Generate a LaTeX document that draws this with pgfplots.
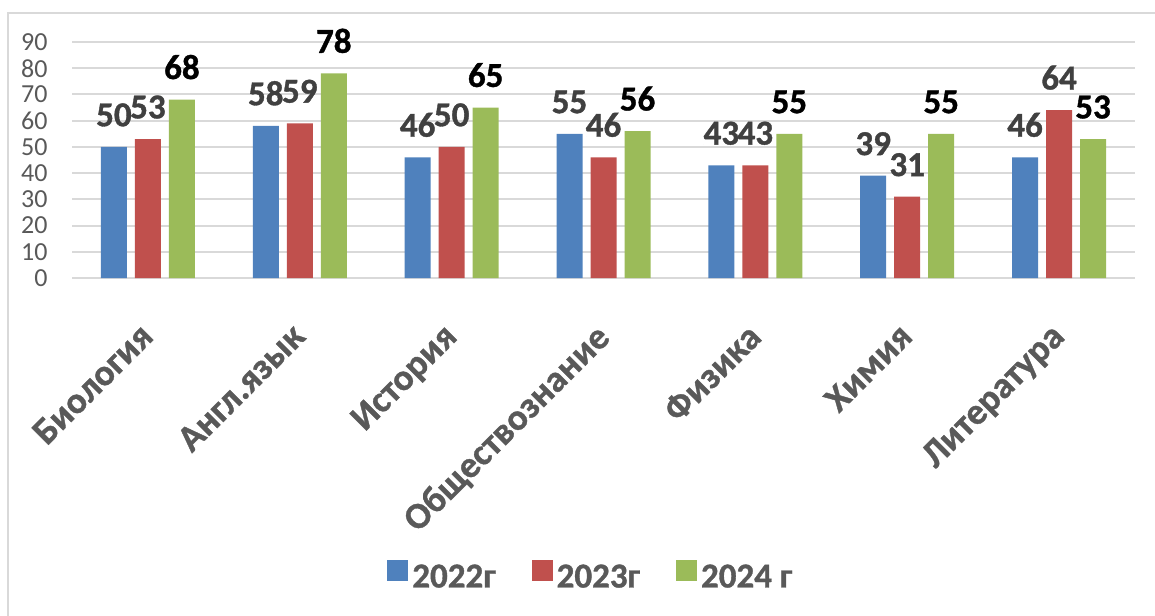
\documentclass[border=0pt]{standalone}
\usepackage{fontspec}
\setmainfont{Carlito}[BoldFeatures={FakeBold=1}]
\usepackage{pgfplots}
\pgfplotsset{compat=1.18}
\definecolor{cblue}{HTML}{4F81BD}
\definecolor{cred}{HTML}{C0504D}
\definecolor{cgreen}{HTML}{9BBB59}
\definecolor{cgrid}{HTML}{D9D9D9}
\definecolor{ctext}{HTML}{595959}
\definecolor{clab}{HTML}{404040}
\newcommand{\lblfont}{\bfseries\fontsize{17.5}{20}\selectfont}
\begin{document}
\begin{tikzpicture}
\useasboundingbox (0,0) rectangle (577.5pt,-307.5pt);
\draw[cgrid, line width=1pt] (4pt,-320pt) -- (4pt,-6.5pt) -- (590pt,-6.5pt);
\begin{axis}[
  at={(36pt,-139pt)}, anchor=south west,
  scale only axis, width=531.5pt, height=118pt,
  ymin=0, ymax=90, xmin=-0.5, xmax=6.5,
  ytick={0,10,...,90}, xtick={0,...,6},
  xticklabels={Биология,Англ.язык,История,Обществознание,Физика,Химия,Литература},
  ybar=4pt, bar width=13pt,
  ymajorgrids, grid style={cgrid, line width=1pt},
  axis line style={draw=none}, major tick length=0pt,
  yticklabel style={anchor=east, inner sep=0pt, xshift=-12pt, font=\fontsize{13}{14}\selectfont, text=ctext},
  xticklabel style={yshift=-21.5pt, xshift=-5pt, rotate=45, anchor=north east, inner sep=0pt, font=\bfseries\fontsize{18.5}{20}\selectfont, text=ctext},
  /pgf/number format/assume math mode=true,
  nodes near coords,
  every node near coord/.append style={anchor=south, inner sep=0pt, yshift=10pt, font=\lblfont},
  legend style={at={(0.489,-1.267)}, anchor=center, draw=none, legend columns=3,
    font=\lblfont, text=ctext,
    /tikz/every even column/.append style={column sep=16pt}},
  legend image code/.code={\fill[#1,draw=none] (0pt,-1.5pt) rectangle (10.5pt,9pt);},
]
\addplot[fill=cblue, draw=none, every node near coord/.append style={text=clab, font=\lblfont}] coordinates {(0,50) (1,58) (2,46) (3,55) (4,43) (5,39) (6,46)};
\addplot[fill=cred, draw=none, every node near coord/.append style={text=clab, font=\lblfont}] coordinates {(0,53) (1,59) (2,50) (3,46) (4,43) (5,31) (6,64)};
\addplot[fill=cgreen, draw=none, every node near coord/.append style={text=black, font=\lblfont}] coordinates {(0,68) (1,78) (2,65) (3,56) (4,55) (5,55) (6,53)};
\legend{2022г,2023г,2024 г}
\end{axis}
\end{tikzpicture}
\end{document}
